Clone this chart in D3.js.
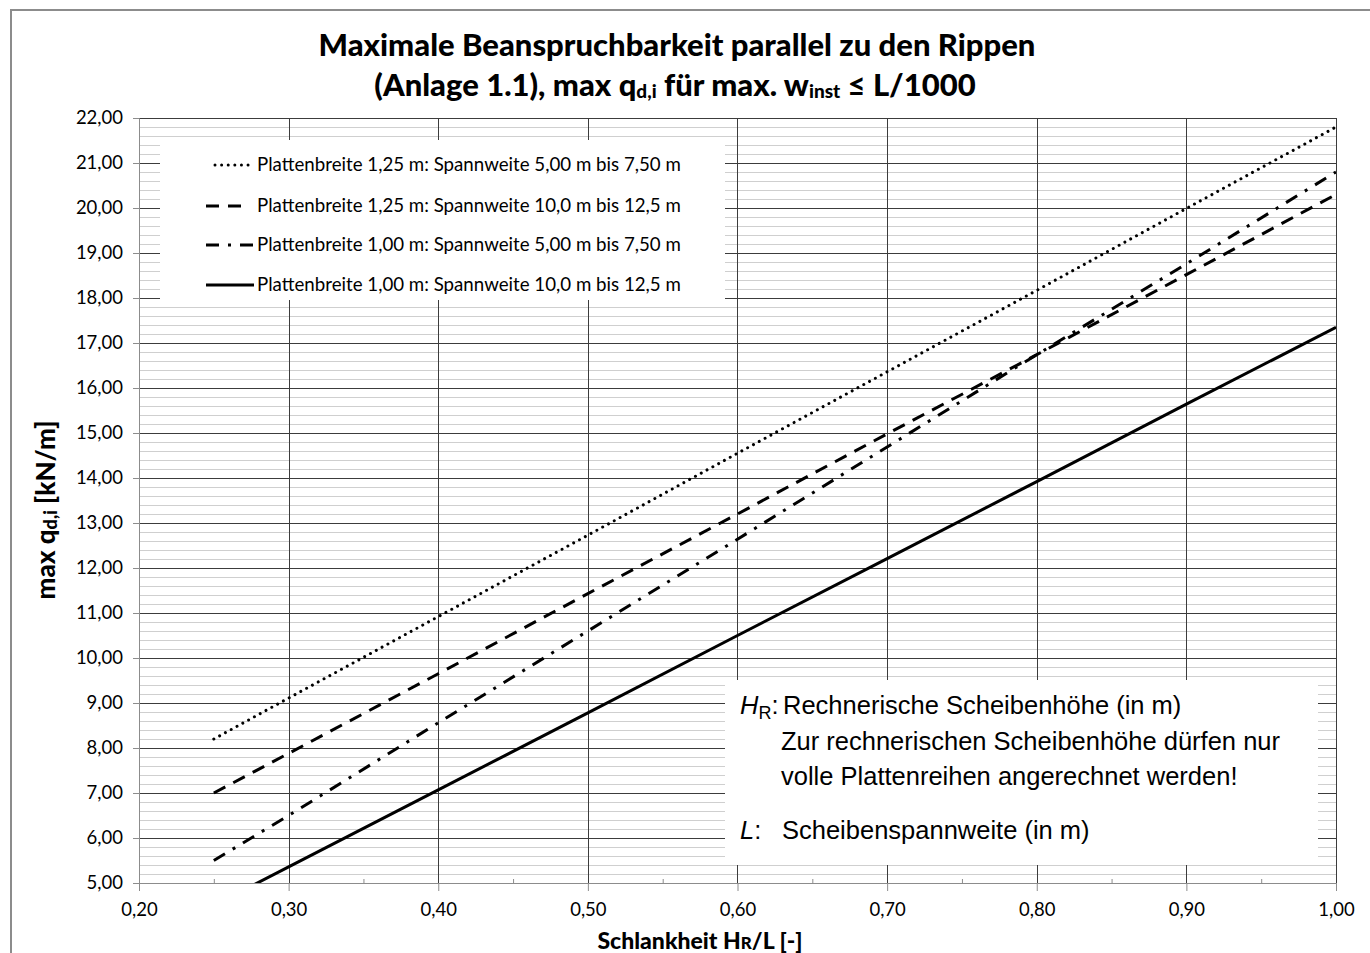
<!DOCTYPE html>
<html>
<head>
<meta charset="utf-8">
<script src="https://cdnjs.cloudflare.com/ajax/libs/d3/7.8.5/d3.min.js"></script>
<style>
	body { margin: 0; background: #fff; }
	svg { display: block; }
</style>
</head>
<body>
<div id="chart"></div>
<script>
// Schlankheit HR/L
var xValues = [0.25, 0.30, 0.40, 0.50, 0.60, 0.70, 0.80, 0.90, 1.00];

// max q_d,i [kN/m]
var breite125kurz = [8.20, 9.11, 10.92, 12.73, 14.55, 16.36, 18.17, 19.99, 21.80];
var breite125lang = [7.00, 7.88, 9.65, 11.43, 13.20, 14.98, 16.74, 18.52, 20.30];
var breite100kurz = [5.50, 6.50, 8.56, 10.60, 12.64, 14.69, 16.74, 18.76, 20.80];
var breite100lang = [4.50, 5.36, 7.07, 8.78, 10.50, 12.21, 13.92, 15.64, 17.35];

var seriesNames = [
	"Plattenbreite 1,25 m: Spannweite 5,00 m bis 7,50 m",
	"Plattenbreite 1,25 m: Spannweite 10,0 m bis 12,5 m",
	"Plattenbreite 1,00 m: Spannweite 5,00 m bis 7,50 m",
	"Plattenbreite 1,00 m: Spannweite 10,0 m bis 12,5 m"
];

var xTicks = [0.20, 0.30, 0.40, 0.50, 0.60, 0.70, 0.80, 0.90, 1.00];
var yTicks = d3.range(5, 23, 1);

var width = 1370, height = 953;
var margin = { top: 118, right: 34, bottom: 70, left: 139 };
var plotW = width - margin.left - margin.right,
	plotH = height - margin.top - margin.bottom;

var fmt = function (d) { return d.toFixed(2).replace(".", ","); };

var x = d3.scaleLinear().domain([0.2, 1.0]).range([0, plotW]);
var y = d3.scaleLinear().domain([5, 22]).range([plotH, 0]);

var svg = d3.select("#chart").append("svg")
	.attr("width", width)
	.attr("height", height);

// outer frame
svg.append("rect")
	.attr("x", 11).attr("y", 10)
	.attr("width", width + 20).attr("height", height + 20)
	.attr("fill", "none")
	.attr("stroke", "#8c8c8c")
	.attr("stroke-width", 2);

// title
var title = svg.append("text")
	.attr("text-anchor", "middle")
	.style("font-family", "Lato, 'Open Sans', sans-serif")
	.style("font-weight", "900")
	.style("font-size", "31px")
	.attr("fill", "#000");
title.append("tspan").attr("x", 677).attr("y", 56)
	.text("Maximale Beanspruchbarkeit parallel zu den Rippen");
var t2 = title.append("tspan").attr("x", 675).attr("y", 96);
t2.append("tspan").text("(Anlage 1.1), max q");
t2.append("tspan").style("font-size", "19px").attr("dy", 2).text("d,i");
t2.append("tspan").attr("dy", -2).text(" für max. w");
t2.append("tspan").style("font-size", "19px").attr("dy", 2).text("inst");
t2.append("tspan").attr("dy", -2).text(" ≤ L/1000");

var g = svg.append("g")
	.attr("transform", "translate(" + margin.left + "," + margin.top + ")");

// minor horizontal gridlines every 0,20
var minorY = d3.range(5, 22.001, 0.2);
g.selectAll(".minor")
	.data(minorY)
	.enter().append("line")
	.attr("class", "minor")
	.attr("x1", 0).attr("x2", plotW)
	.attr("y1", function (d) { return Math.round(y(d)) + 0.5; })
	.attr("y2", function (d) { return Math.round(y(d)) + 0.5; })
	.attr("stroke", "#cfcfcf");

// major gridlines
g.selectAll(".hmajor")
	.data(yTicks)
	.enter().append("line")
	.attr("class", "hmajor")
	.attr("x1", 0).attr("x2", plotW)
	.attr("y1", function (d) { return Math.round(y(d)) + 0.5; })
	.attr("y2", function (d) { return Math.round(y(d)) + 0.5; })
	.attr("stroke", "#3c3c3c");

g.selectAll(".vmajor")
	.data(xTicks)
	.enter().append("line")
	.attr("class", "vmajor")
	.attr("y1", 0).attr("y2", plotH)
	.attr("x1", function (d) { return Math.round(x(d)) + 0.5; })
	.attr("x2", function (d) { return Math.round(x(d)) + 0.5; })
	.attr("stroke", "#3c3c3c");

// axes
var xAxis = d3.axisBottom(x).tickValues(xTicks).tickFormat(fmt).tickSize(8).tickPadding(12);
var xMinor = d3.axisBottom(x).tickValues(d3.range(0.25, 1.0, 0.1)).tickFormat("").tickSize(5);
var yAxis = d3.axisLeft(y).tickValues(yTicks).tickFormat(fmt).tickSize(6).tickPadding(10);

var gx = g.append("g")
	.attr("transform", "translate(0," + plotH + ")")
	.call(xAxis);
g.append("g")
	.attr("transform", "translate(0," + (plotH - 4) + ")")
	.call(xMinor)
	.call(function (s) { s.select(".domain").remove(); });
var gy = g.append("g").call(yAxis);

g.selectAll(".domain").attr("stroke", "#8c8c8c");
g.selectAll(".tick line").attr("stroke", "#8c8c8c");
g.selectAll(".tick text")
	.style("font-family", "Lato, sans-serif")
	.style("font-size", "18.5px")
	.attr("fill", "#000");

// right edge of plot area
g.append("line")
	.attr("x1", plotW + 0.5).attr("x2", plotW + 0.5)
	.attr("y1", 0).attr("y2", plotH)
	.attr("stroke", "#3c3c3c");

// legend box
var lx = 160 - margin.left, ly = 140 - margin.top;
g.append("rect")
	.attr("x", lx).attr("y", ly)
	.attr("width", 565).attr("height", 160)
	.attr("fill", "#fff");

// annotation box
g.append("rect")
	.attr("x", 725 - margin.left).attr("y", 680 - margin.top)
	.attr("width", 593).attr("height", 185)
	.attr("fill", "#fff");

g.append("clipPath").attr("id", "clip")
	.append("rect").attr("width", plotW).attr("height", plotH);

var styles = [
	{ dash: "0.01,6.6", cap: "round" },
	{ dash: "13,9", cap: "butt" },
	{ dash: "13,9,3,9", cap: "butt" },
	{ dash: null, cap: "butt" }
];
var allSeries = [breite125kurz, breite125lang, breite100kurz, breite100lang];

var line = d3.line()
	.x(function (d, i) { return x(xValues[i]); })
	.y(function (d) { return y(d); });

g.selectAll(".serie")
	.data(allSeries)
	.enter().append("path")
	.attr("class", "serie")
	.attr("clip-path", "url(#clip)")
	.attr("d", line)
	.attr("fill", "none")
	.attr("stroke", "#000")
	.attr("stroke-width", 3)
	.attr("stroke-linecap", function (d, i) { return styles[i].cap; })
	.attr("stroke-dasharray", function (d, i) { return styles[i].dash; });

// legend
var legendRows = [165, 206, 245, 285];
var leg = svg.append("g");
seriesNames.forEach(function (name, i) {
	leg.append("line")
		.attr("x1", i == 0 ? 215 : 206).attr("x2", i == 1 ? 246 : 254)
		.attr("y1", legendRows[i]).attr("y2", legendRows[i])
		.attr("stroke", "#000")
		.attr("stroke-width", 3)
		.attr("stroke-linecap", styles[i].cap)
		.attr("stroke-dasharray", styles[i].dash);
	leg.append("text")
		.attr("x", 257).attr("y", legendRows[i] + 6)
		.style("font-family", "Lato, sans-serif")
		.style("font-size", "18.7px")
		.text(name);
});

// annotation text
var ann = svg.append("g")
	.style("font-family", "'Liberation Sans', Arial, sans-serif")
	.style("font-size", "25.5px")
	.attr("fill", "#000");
var a1 = ann.append("text").attr("x", 740).attr("y", 714);
a1.append("tspan").style("font-style", "italic").text("H");
a1.append("tspan").style("font-size", "18px").attr("dy", 5).text("R");
a1.append("tspan").attr("dy", -5).text(":");
ann.append("text").attr("x", 783).attr("y", 714).text("Rechnerische Scheibenhöhe (in m)");
ann.append("text").attr("x", 781).attr("y", 750).text("Zur rechnerischen Scheibenhöhe dürfen nur");
ann.append("text").attr("x", 781).attr("y", 785).text("volle Plattenreihen angerechnet werden!");
var a4 = ann.append("text").attr("x", 740).attr("y", 839);
a4.append("tspan").style("font-style", "italic").text("L");
a4.append("tspan").text(":");
ann.append("text").attr("x", 782).attr("y", 839).text("Scheibenspannweite (in m)");

// axis titles
var xt = svg.append("text")
	.attr("x", 700).attr("y", 949)
	.attr("text-anchor", "middle")
	.style("font-family", "Lato, sans-serif")
	.style("font-weight", "900")
	.style("font-size", "23px")
	.text("Schlankheit H");
xt.append("tspan").style("font-size", "17px").text("R");
xt.append("tspan").text("/L [-]");

var yt = svg.append("text")
	.attr("transform", "translate(55,510) rotate(-90)")
	.attr("text-anchor", "middle")
	.style("font-family", "Lato, sans-serif")
	.style("font-weight", "900")
	.style("font-size", "26px")
	.text("max q");
yt.append("tspan").style("font-size", "18px").attr("dy", 2).text("d,i");
yt.append("tspan").attr("dy", -2).text(" [kN/m]");
</script>
</body>
</html>
